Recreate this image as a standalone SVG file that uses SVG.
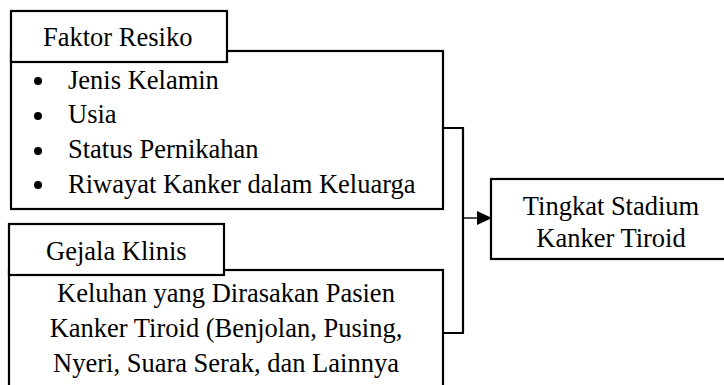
<svg xmlns="http://www.w3.org/2000/svg" width="724" height="385" viewBox="0 0 724 385">
<style>
.box{fill:#fff;stroke:#000;stroke-width:2.2}
.t{font-family:"Liberation Serif","Times New Roman",serif;font-size:26.5px;fill:#000}
.m{text-anchor:middle}
.con{fill:none;stroke:#000;stroke-width:2.2}
.arr{fill:none;stroke:#000;stroke-width:1.4}
</style>
<defs>
<marker id="ah" markerWidth="16" markerHeight="14" refX="15" refY="7" orient="auto" markerUnits="userSpaceOnUse">
<path d="M0,0 L15,7 L0,14 Z" fill="#000"/>
</marker>
</defs>
<g id="faktor-resiko">
<rect class="box" x="11" y="51" width="432" height="158"/>
<rect class="box" x="11" y="11" width="216" height="51"/>
<text class="t" x="43" y="46">Faktor Resiko</text>
<circle cx="38" cy="81" r="4"/>
<circle cx="38" cy="116" r="4"/>
<circle cx="38" cy="151" r="4"/>
<circle cx="38" cy="185" r="4"/>
<text class="t" x="68" y="89">Jenis Kelamin</text>
<text class="t" x="68" y="123">Usia</text>
<text class="t" x="68" y="158">Status Pernikahan</text>
<text class="t" x="68" y="193">Riwayat Kanker dalam Keluarga</text>
</g>
<g id="gejala-klinis">
<rect class="box" x="9" y="270" width="434" height="120"/>
<rect class="box" x="9" y="224" width="215" height="51"/>
<text class="t" x="46" y="260">Gejala Klinis</text>
<text class="t m" x="226" y="302">Keluhan yang Dirasakan Pasien</text>
<text class="t m" x="226" y="337">Kanker Tiroid (Benjolan, Pusing,</text>
<text class="t m" x="226" y="372">Nyeri, Suara Serak, dan Lainnya</text>
</g>
<g id="tingkat-stadium">
<rect class="box" x="491" y="179" width="240" height="80"/>
<text class="t m" x="611" y="215">Tingkat Stadium</text>
<text class="t m" x="611" y="247">Kanker Tiroid</text>
</g>
<g id="connectors">
<polyline class="con" points="443,128 463,128 463,333 443,333"/>
<line class="arr" x1="463" y1="218" x2="492" y2="218" marker-end="url(#ah)"/>
</g>
</svg>
